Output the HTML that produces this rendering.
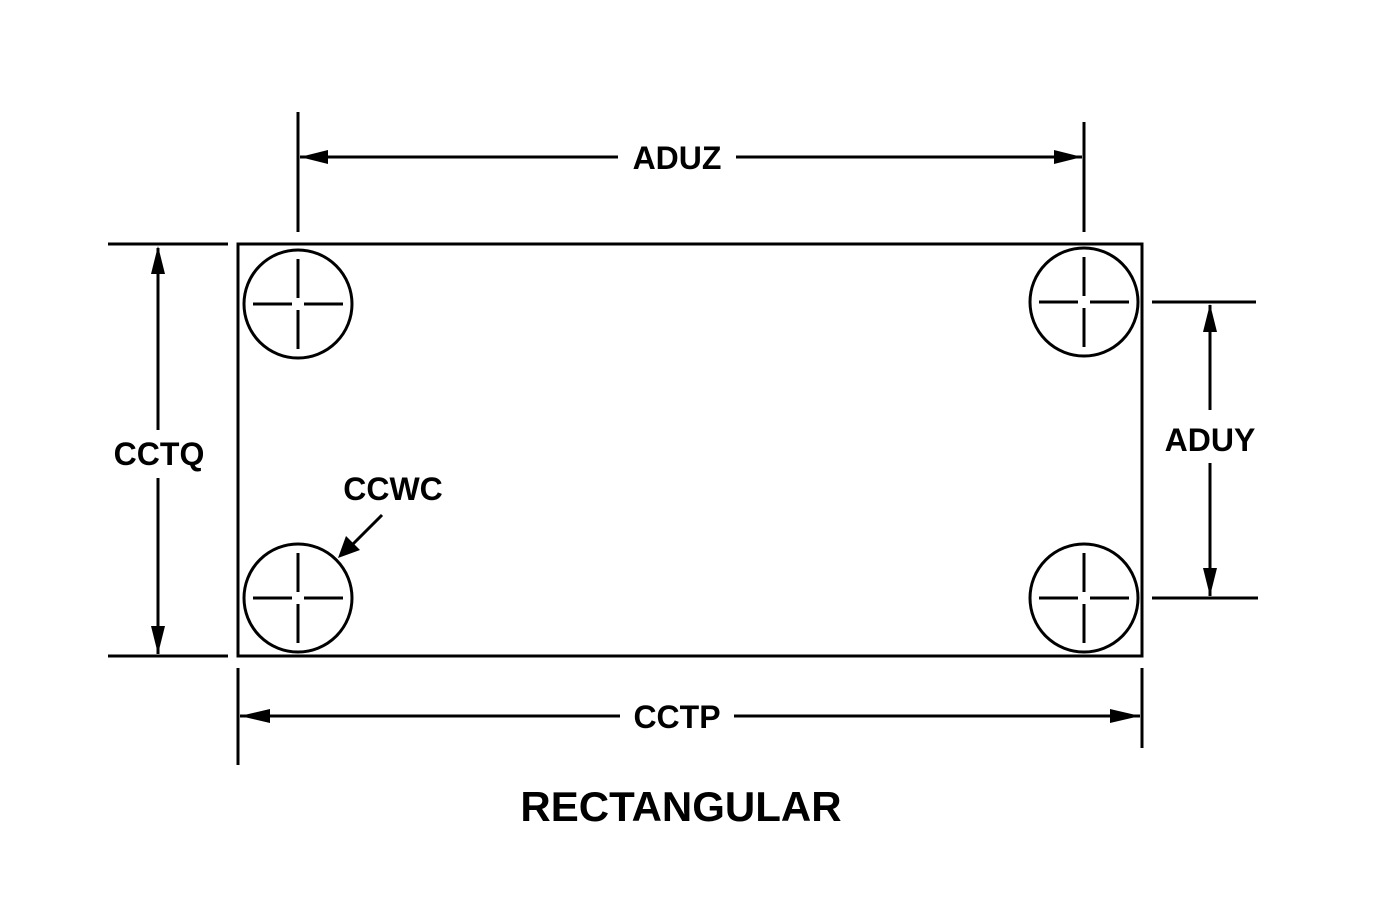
<!DOCTYPE html>
<html><head><style>body{margin:0;background:#fff}svg{display:block}text{font-family:"Liberation Sans",Arial,sans-serif;font-weight:bold}</style></head>
<body>
<svg width="1377" height="921" viewBox="0 0 1377 921" xmlns="http://www.w3.org/2000/svg">
<defs>
<g id="hole">
<circle r="54" fill="none" stroke="#000" stroke-width="3"/>
<path d="M-45 0H-6M6 0H45M0 -45V-6M0 6V45" stroke="#000" stroke-width="3"/>
</g>
</defs>
<g stroke="#000" stroke-width="3" fill="none">
<rect x="238" y="244" width="904" height="412"/>
<path d="M298 112V232M1084 122V232M300 157H618M736 157H1082"/>
<path d="M108 244H228M108 656H228M158 248V430M158 478V654"/>
<path d="M1152 302H1256M1152 598H1258M1210 305V410M1210 463V596"/>
<path d="M238 668V765M1142 668V748M240 716H620M734 716H1140"/>
<path d="M382 515L345 552"/>
</g>
<g fill="#000">
<polygon points="300,157 328,150 328,164"/>
<polygon points="1082,157 1054,150 1054,164"/>
<polygon points="158,246 151,274 165,274"/>
<polygon points="158,654 151,626 165,626"/>
<polygon points="1210,304 1203,332 1217,332"/>
<polygon points="1210,596 1203,568 1217,568"/>
<polygon points="240,716 270,709 270,723"/>
<polygon points="1140,716 1110,709 1110,723"/>
<polygon points="338,558 346,536 360,550"/>
</g>
<use href="#hole" x="298" y="304"/>
<use href="#hole" x="1084" y="302"/>
<use href="#hole" x="298" y="598"/>
<use href="#hole" x="1084" y="598"/>
<g font-size="32" text-anchor="middle">
<text x="677" y="169">ADUZ</text>
<text x="159" y="465">CCTQ</text>
<text x="1210" y="451">ADUY</text>
<text x="393" y="500">CCWC</text>
<text x="677" y="728">CCTP</text>
<text x="681" y="821" font-size="42">RECTANGULAR</text>
</g>
</svg>
</body></html>
